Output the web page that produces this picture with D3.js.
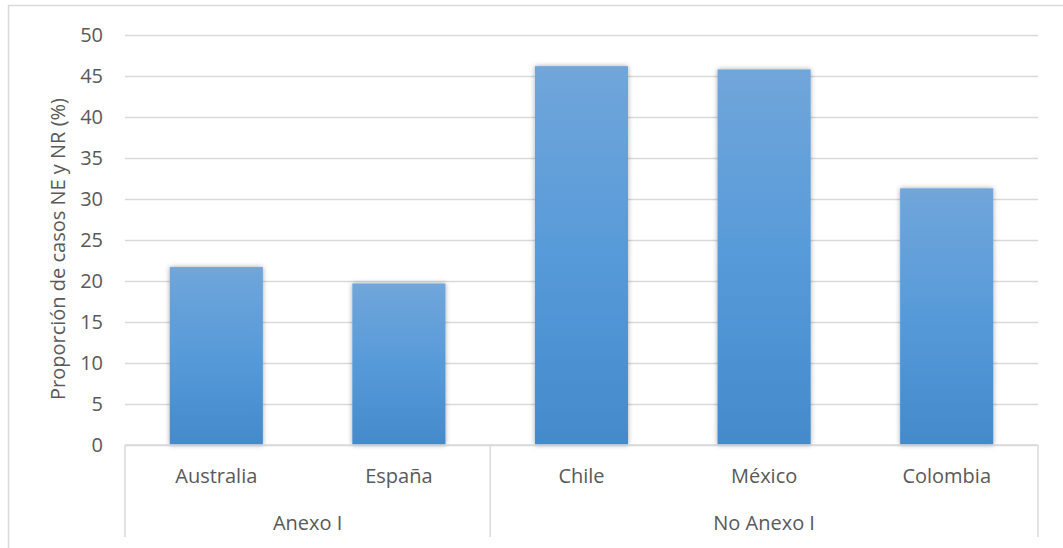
<!DOCTYPE html>
<html lang="es">
<head>
    <meta charset="UTF-8">
    <title>Proporción de casos NE y NR</title>
    <script src="https://d3js.org/d3.v7.min.js"></script>
    <style>
        body {
            margin: 0;
            background: #fff;
            font-family: "Open Sans", sans-serif;
        }
        svg {
            display: block;
        }
        text {
            fill: #595959;
            font-size: 20px;
        }
    </style>
</head>
<body>
    <div id="container"></div>

    <script>
        // data
        const countries = ['Australia', 'España', 'Chile', 'México', 'Colombia'];
        const groups = ['Anexo I', 'Anexo I', 'No Anexo I', 'No Anexo I', 'No Anexo I'];
        const values = [21.7, 19.7, 46.2, 45.8, 31.3];
        const yTicks = [0, 5, 10, 15, 20, 25, 30, 35, 40, 45, 50];

        const width = 1063;
        const height = 548;

        // plot area
        const plotLeft = 125;
        const plotRight = 1038;
        const plotTop = 35;
        const plotBottom = 445;

        const svg = d3.select('#container')
            .append('svg')
            .attr('width', width)
            .attr('height', height);

        // gradient + shadow for the bars
        const defs = svg.append('defs');
        const grad = defs.append('linearGradient')
            .attr('id', 'barGrad')
            .attr('x1', 0).attr('y1', 0)
            .attr('x2', 0).attr('y2', 1);
        grad.append('stop').attr('offset', '0%').attr('stop-color', '#70a6da');
        grad.append('stop').attr('offset', '50%').attr('stop-color', '#579ad9');
        grad.append('stop').attr('offset', '100%').attr('stop-color', '#448aca');

        const shadow = defs.append('filter')
            .attr('id', 'shadow')
            .attr('x', '-20%').attr('y', '-10%')
            .attr('width', '140%').attr('height', '120%');
        shadow.append('feDropShadow')
            .attr('dx', 0).attr('dy', 0)
            .attr('stdDeviation', 2.5)
            .attr('flood-color', '#000')
            .attr('flood-opacity', 0.35);

        // outer chart border
        svg.append('rect')
            .attr('x', 8.5).attr('y', 5.5)
            .attr('width', 1070).attr('height', 560)
            .attr('fill', 'none')
            .attr('stroke', '#d9d9d9')
            .attr('stroke-width', 1.5);

        // scales
        const x = d3.scaleBand()
            .domain(countries)
            .range([plotLeft, plotRight])
            .paddingInner(0.49)
            .paddingOuter(0.245);

        const y = d3.scaleLinear()
            .domain([0, 50])
            .range([plotBottom, plotTop]);

        // gridlines + tick labels
        const yAxis = d3.axisLeft(y)
            .tickValues(yTicks)
            .tickSize(-(plotRight - plotLeft))
            .tickPadding(22);

        const gy = svg.append('g')
            .attr('transform', `translate(${plotLeft},0)`)
            .call(yAxis);
        gy.select('.domain').remove();
        gy.selectAll('.tick line')
            .attr('stroke', '#d9d9d9')
            .attr('stroke-width', 1.5);
        gy.selectAll('.tick text')
            .attr('font-family', '"Open Sans", sans-serif')
            .style('font-size', '20px')
            .attr('fill', '#595959');

        // bars
        svg.selectAll('.bar')
            .data(countries)
            .enter()
            .append('rect')
            .attr('class', 'bar')
            .attr('x', d => x(d))
            .attr('width', x.bandwidth())
            .attr('y', (d, i) => y(values[i]))
            .attr('height', (d, i) => y(0) - y(values[i]))
            .attr('fill', 'url(#barGrad)')
            .attr('filter', 'url(#shadow)');

        // category axis box
        const axisBottom = 537;
        const axisLine = svg.append('g')
            .attr('stroke', '#d9d9d9')
            .attr('stroke-width', 1.5)
            .attr('fill', 'none');
        axisLine.append('line')
            .attr('x1', plotLeft).attr('x2', plotRight)
            .attr('y1', plotBottom).attr('y2', plotBottom);

        // group boundaries
        const groupNames = Array.from(new Set(groups));
        const groupSpans = groupNames.map(g => {
            const members = countries.filter((c, i) => groups[i] === g);
            const step = x.step();
            const start = x(members[0]) - x.paddingInner() * step / 2;
            const end = x(members[members.length - 1]) + x.bandwidth() + x.paddingInner() * step / 2;
            return { name: g, start: start, end: end };
        });
        const edges = [plotLeft].concat(groupSpans.map(s => s.end));
        edges[edges.length - 1] = plotRight;
        axisLine.selectAll('.edge')
            .data(edges)
            .enter()
            .append('line')
            .attr('x1', d => d).attr('x2', d => d)
            .attr('y1', plotBottom).attr('y2', axisBottom);

        // country labels
        svg.selectAll('.cat')
            .data(countries)
            .enter()
            .append('text')
            .attr('class', 'cat')
            .attr('x', d => x(d) + x.bandwidth() / 2)
            .attr('y', 483)
            .attr('text-anchor', 'middle')
            .text(d => d);

        // group labels
        svg.selectAll('.grp')
            .data(groupSpans)
            .enter()
            .append('text')
            .attr('class', 'grp')
            .attr('x', d => (d.start + d.end) / 2)
            .attr('y', 530)
            .attr('text-anchor', 'middle')
            .text(d => d.name);

        // y axis title
        svg.append('text')
            .attr('transform', 'translate(65,249) rotate(-90)')
            .attr('text-anchor', 'middle')
            .text('Proporción de casos NE y NR (%)');
    </script>
</body>
</html>
